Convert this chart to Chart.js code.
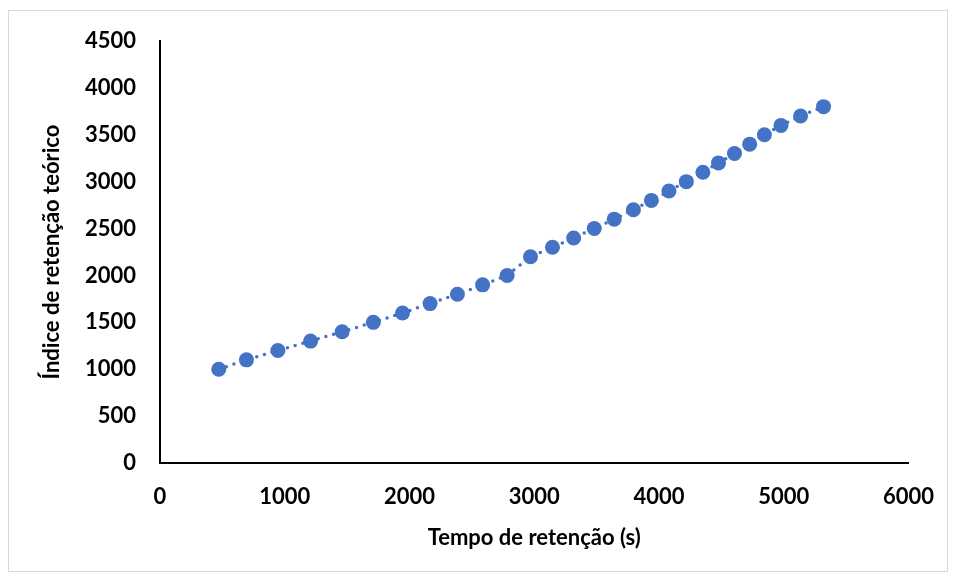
<!DOCTYPE html>
<html>
<head>
<meta charset="utf-8">
<script src="https://cdn.jsdelivr.net/npm/chart.js@4/dist/chart.umd.min.js"></script>
<style>
  body { margin: 0; background: #fff; }
  #moldura { position: absolute; left: 8px; top: 10px; width: 938px; height: 560px; border: 1px solid #d9d9d9; }
  #caixa { position: absolute; left: 0; top: 0; width: 955px; height: 580px; }
</style>
</head>
<body>
<div id="moldura"></div>
<div id="caixa"><canvas id="grafico" width="955" height="580"></canvas></div>
<script>
const tempoRetencao = [471, 693, 945, 1207, 1460, 1710, 1944, 2165, 2384, 2586, 2783, 2970, 3146, 3316, 3481, 3641, 3795, 3939, 4080, 4219, 4352, 4477, 4605, 4727, 4845, 4978, 5135, 5319];
const indiceRetencao = [1000, 1100, 1200, 1300, 1400, 1500, 1600, 1700, 1800, 1900, 2000, 2200, 2300, 2400, 2500, 2600, 2700, 2800, 2900, 3000, 3100, 3200, 3300, 3400, 3500, 3600, 3700, 3800];
const ticksX = [0, 1000, 2000, 3000, 4000, 5000, 6000];
const ticksY = [0, 500, 1000, 1500, 2000, 2500, 3000, 3500, 4000, 4500];

const azul = '#4472C4';
const fonte = { family: 'Lato, "Open Sans", sans-serif', size: 22, weight: 'bold' };

const pontos = tempoRetencao.map((t, i) => ({ x: t, y: indiceRetencao[i] }));

const config = {
    type: 'scatter',
    data: {
        datasets: [{
            data: pontos,
            showLine: true,
            borderColor: azul,
            borderWidth: 3.5,
            borderDash: [0, 8],
            borderCapStyle: 'round',
            pointRadius: 7.5,
            pointBackgroundColor: azul,
            pointBorderColor: azul,
            pointBorderWidth: 0
        }]
    },
    options: {
        responsive: false,
        animation: false,
        layout: { padding: { left: 0, top: 41, right: 44, bottom: 0 } },
        plugins: {
            legend: { display: false },
            tooltip: { enabled: false }
        },
        scales: {
            x: {
                type: 'linear',
                min: 0,
                max: 6000,
                afterBuildTicks: s => { s.ticks = ticksX.map(v => ({ value: v })); },
                afterFit: s => { s.height = 117; },
                grid: { display: false, drawTicks: false },
                border: { display: true, color: '#000', width: 2 },
                ticks: { color: '#000', font: fonte, padding: 21, maxRotation: 0, callback: v => String(v) },
                title: { display: true, text: 'Tempo de retenção (s)', color: '#000', font: fonte, padding: { top: 0, bottom: 29 } }
            },
            y: {
                type: 'linear',
                min: 0,
                max: 4500,
                afterBuildTicks: s => { s.ticks = ticksY.map(v => ({ value: v })); },
                afterFit: s => { s.width = 160; },
                grid: { display: false, drawTicks: false },
                border: { display: true, color: '#000', width: 2 },
                ticks: { color: '#000', font: fonte, padding: 24, callback: v => String(v) },
                title: { display: true, text: 'Índice de retenção teórico', color: '#000', font: fonte, padding: { top: 39, bottom: 0 } }
            }
        }
    }
};

new Chart(document.getElementById('grafico').getContext('2d'), config);
</script>
</body>
</html>
